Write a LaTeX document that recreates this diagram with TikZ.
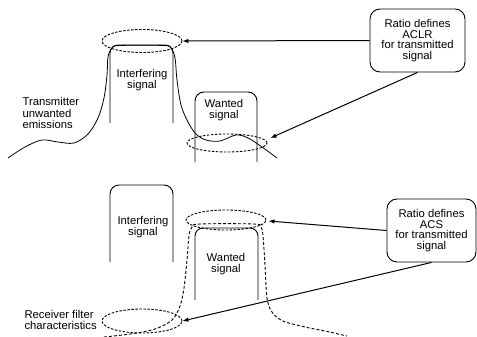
\documentclass[tikz,border=0pt]{standalone}
\usepackage{fontspec}
\setmainfont{Liberation Sans}
\usetikzlibrary{arrows.meta, shapes.geometric, calc}

\begin{document}
\begin{tikzpicture}[x=1pt, y=-1pt,
        sig/.style={line width=0.9pt, rounded corners=8pt},
        spec/.style={line width=0.8pt},
        filt/.style={line width=0.9pt, dash pattern=on 3pt off 2pt},
        ring/.style={draw, ellipse, line width=0.9pt, dash pattern=on 2.5pt off 1.5pt, minimum width=80pt, minimum height=22pt, inner sep=0pt},
        note/.style={draw, line width=0.9pt, rounded corners=10pt, align=center, font=\fontsize{11.3}{10.8}\selectfont},
        lbl/.style={align=center, font=\fontsize{11.3}{10.8}\selectfont},
        side/.style={align=left, anchor=west, font=\fontsize{11.3}{11.5}\selectfont},
        ptr/.style={-{Latex[length=6pt, width=4.5pt]}, line width=1pt},
    ]
    \useasboundingbox (0,0) rectangle (477,337);

    % transmitter side
    \draw[sig] (110,123) |- (173,45) -- (173,123);
    \draw[sig, rounded corners=9pt] (195,162) |- (257,92) -- (257,162);
    \draw[spec] plot[smooth, tension=0.55] coordinates {(8,158) (25,147) (42,140) (58,142) (74,143) (88,134) (98,118) (104,98) (107,75) (108,57) (112,48) (120,45.5) (164,45.5) (171,48) (175,58) (177,80) (181,105) (188,122) (196,134) (206,140) (220,141) (236,135) (248,138) (262,147) (277,158)};
    \node[lbl] (txint) at (142,80) {Interfering\\signal};
    \node[lbl] (txwant) at (224,110) {Wanted\\signal};
    \node[side] (txemis) at (19,113) {Transmitter\\unwanted\\emissions};
    \node[ring, minimum height=23pt] (txtop) at (142,41) {};
    \node[ring, minimum height=18pt] (txadj) at (227,143) {};
    \node[note, minimum width=95pt, minimum height=63pt] (aclr) at (417.5,40.5) {Ratio defines\\ACLR\\for transmitted\\signal};
    \draw[ptr] (aclr.west) -- (txtop.east);
    \draw[ptr] (aclr.south) -- ($(txadj.east)+(3,-5)$);

    % receiver side
    \draw[sig, rounded corners=9pt] (110,262) |- (173,185) -- (173,262);
    \draw[sig] (195,300) |- (258,228) -- (258,300);
    \draw[filt] plot[smooth, tension=0.55] coordinates {(104,337) (130,334) (155,329) (172,320) (180,306) (184,288) (187,260) (189,236) (192,227) (200,224) (254,224) (261,227) (263,236) (265,265) (267,298) (272,312) (283,321) (305,327) (325,331) (347,336)};
    \node[lbl] (rxint) at (143,227) {Interfering\\signal};
    \node[lbl] (rxwant) at (226,264) {Wanted\\signal};
    \node[side] (rxfilt) at (21,320) {Receiver filter\\characteristics};
    \node[ring, minimum height=20pt] (rxtop) at (226,220) {};
    \node[ring, minimum height=24pt] (rxadj) at (142,321) {};
    \node[note, minimum width=89pt, minimum height=63pt] (acs) at (431.5,230.5) {Ratio defines\\ACS\\for transmitted\\signal};
    \draw[ptr] (acs.west) -- ($(rxtop.east)+(2,1)$);
    \draw[ptr] (acs.south) -- (rxadj.east);
\end{tikzpicture}
\end{document}
